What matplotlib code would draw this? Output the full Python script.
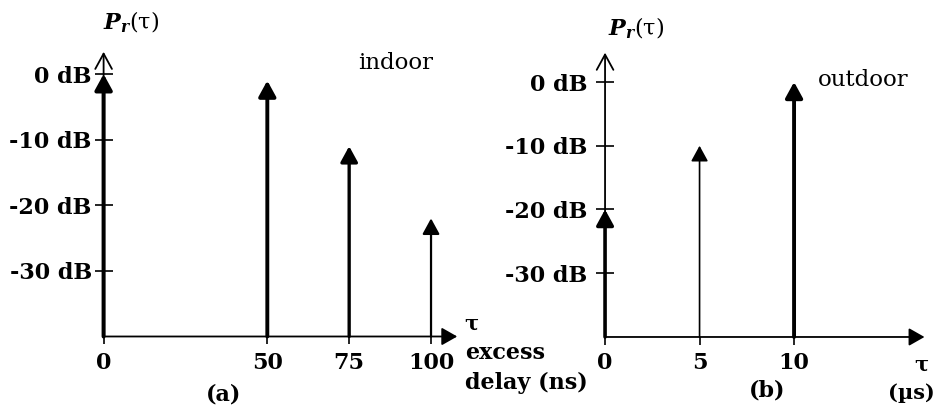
import matplotlib
matplotlib.use("Agg")
import matplotlib.pyplot as plt

# ---------------- data ----------------
indoor_delay_ns = [0, 50, 75, 100]
indoor_power_db = [0, -1, -11, -22]
outdoor_delay_us = [0, 5, 10]
outdoor_power_db = [-20, -10, 0]
y_ticks_db = [0, -10, -20, -30]
y_tick_labels = ["0 dB", "-10 dB", "-20 dB", "-30 dB"]
indoor_xticks = [0, 50, 75, 100]
outdoor_xticks = [0, 5, 10]

# ---------------- style ----------------
indoor_lw = [2.9, 2.8, 2.4, 1.6]
outdoor_lw = [2.6, 1.2, 2.8]
BASE = -40

plt.rcParams['font.family'] = ['DejaVu Serif']
plt.rcParams['mathtext.fontset'] = 'custom'
plt.rcParams['mathtext.it'] = 'DejaVu Serif:italic:bold'
plt.rcParams['mathtext.rm'] = 'DejaVu Serif'

W, H = 941, 407
fig = plt.figure(figsize=(W / 100, H / 100), dpi=100)


def fp(x, y):
    return x / W, 1 - y / H


axL = fig.add_axes([0.0927, 0.1410, 0.4071, 0.7737])
axR = fig.add_axes([0.6229, 0.1407, 0.3716, 0.7518])


def setup(ax, xlim, ylim, xticks, ypad, xtop, ytop):
    ax.set_xlim(*xlim)
    ax.set_ylim(*ylim)
    for s in ax.spines.values():
        s.set_visible(False)
    ax.spines['left'].set_position(('data', 0))
    ax.spines['bottom'].set_position(('data', BASE))
    ax.set_yticks(y_ticks_db)
    ax.set_yticklabels(y_tick_labels, fontsize=16, fontweight='bold')
    ax.set_xticks(xticks)
    ax.set_xticklabels([str(t) for t in xticks], fontsize=16, fontweight='bold')
    ax.tick_params(axis='y', direction='inout', length=13, width=1.2, pad=ypad)
    ax.tick_params(axis='x', direction='out', length=6, width=1.2, pad=5)
    ax.patch.set_visible(False)
    # axes as arrows
    ax.annotate('', xy=(0, ytop), xytext=(0, BASE),
                arrowprops=dict(arrowstyle='->,head_length=11,head_width=6',
                                mutation_scale=1, lw=1.3, color='black',
                                shrinkA=0, shrinkB=0))
    ax.annotate('', xy=(xtop, BASE), xytext=(0, BASE),
                arrowprops=dict(arrowstyle='-|>,head_length=9.5,head_width=5.4',
                                mutation_scale=1, lw=1.3, color='black',
                                shrinkA=0, shrinkB=0))


setup(axL, (-5, 112), (-42, 6), indoor_xticks, 2, 108, 3.4)
setup(axR, (-1, 17.5), (-42, 6), outdoor_xticks, 6, 16.9, 4.6)


def stems(ax, xs, ps, lws):
    for x, p, lw in zip(xs, ps, lws):
        ax.annotate('', xy=(x, p), xytext=(x, BASE),
                    arrowprops=dict(arrowstyle='-|>,head_length=9.5,head_width=5.2',
                                    mutation_scale=1, lw=lw, color='black',
                                    shrinkA=0, shrinkB=0))


stems(axL, indoor_delay_ns, indoor_power_db, indoor_lw)
stems(axR, outdoor_delay_us, outdoor_power_db, outdoor_lw)

# ---------------- annotations ----------------
pr_label = r'$P_r(\mathrm{\tau})$'
fig.text(*fp(103, 22), pr_label, fontsize=16, ha='left', va='center')
fig.text(*fp(608, 28), pr_label, fontsize=16, ha='left', va='center')
fig.text(*fp(396, 63), 'indoor', fontsize=16.5, ha='center', va='center')
fig.text(*fp(863, 80), 'outdoor', fontsize=16.5, ha='center', va='center')
fig.text(*fp(471, 323), '\u03c4', fontsize=15, fontweight='bold', ha='center', va='center')
fig.text(*fp(465, 353), 'excess', fontsize=16, fontweight='bold', ha='left', va='center')
fig.text(*fp(465, 383), 'delay (ns)', fontsize=16, fontweight='bold', ha='left', va='center')
fig.text(*fp(224, 395), '(a)', fontsize=16, fontweight='bold', ha='center', va='center')
fig.text(*fp(921, 364), '\u03c4', fontsize=15, fontweight='bold', ha='center', va='center')
fig.text(*fp(911, 393), '(µs)', fontsize=15, fontweight='bold', ha='center', va='center')
fig.text(*fp(767, 390), '(b)', fontsize=16, fontweight='bold', ha='center', va='center')

fig.savefig('out.png', dpi=100)
